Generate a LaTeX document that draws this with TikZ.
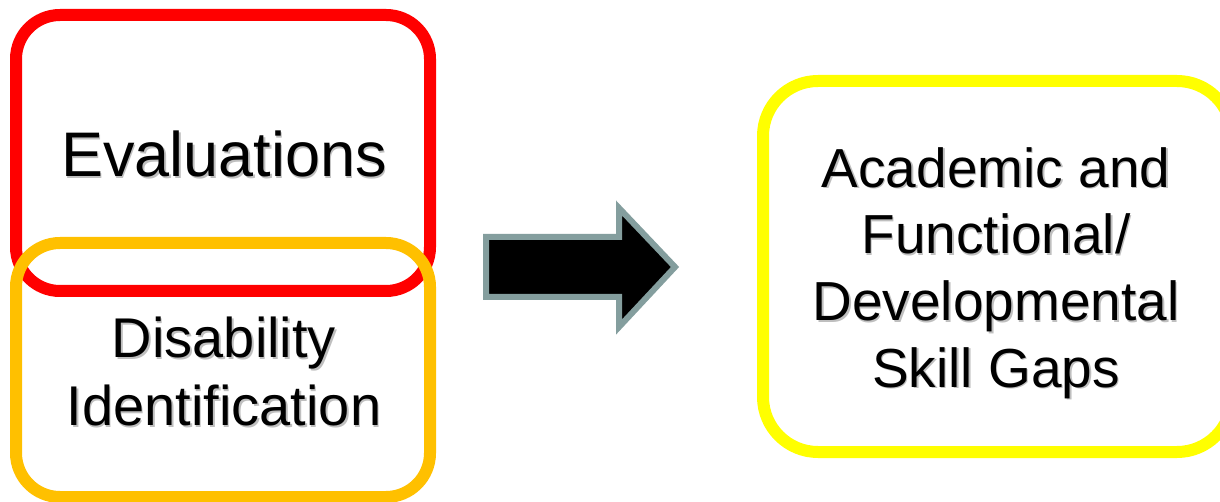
\documentclass[tikz,border=0pt]{standalone}
\usepackage{fontspec}
\setmainfont{Liberation Sans}
\definecolor{evalred}{RGB}{255,0,0}
\definecolor{disorange}{RGB}{255,192,0}
\definecolor{gapyellow}{RGB}{255,255,0}
\definecolor{arrowgrey}{RGB}{132,158,158}
\begin{document}
\begin{tikzpicture}[x=1pt,y=-1pt,
  boxline/.style={line width=12pt, rounded corners=#1},
  bigtxt/.style={inner sep=0pt, align=center, font=\fontsize{63}{70}\selectfont},
  midtxt/.style={inner sep=0pt, align=center, font=\fontsize{56}{68}\selectfont},
  gaptxt/.style={inner sep=0pt, align=center, font=\fontsize{55}{66.7}\selectfont},
  shadowtxt/.style={text=black!25}]
\useasboundingbox (0,0) rectangle (1220,502);
\clip (0,0) rectangle (1220,502);
\fill[white] (0,0) rectangle (1220,502);
% boxes
\draw[boxline=44pt, draw=evalred] (16,15) rectangle (430,291);
\draw[boxline=44pt, draw=disorange] (16,243) rectangle (430,497);
\draw[boxline=55pt, draw=gapyellow] (763,81) rectangle (1232,452);
% arrow
\draw[line width=6pt, draw=arrowgrey, fill=black, miter limit=10]
  (486,237) -- (619,237) -- (619,208) -- (675,267) -- (619,327) -- (619,297) -- (486,297) -- cycle;
% text shadows
\node[bigtxt, shadowtxt, anchor=base] at (225.5,178.5) {Evaluations};
\node[midtxt, shadowtxt] at (225.5,373) {Disability\\Identification};
\node[gaptxt, shadowtxt] at (997.5,274.5) {Academic and\\Functional/\\Developmental\\Skill Gaps};
% texts
\node[bigtxt, anchor=base] (eval) at (224,177) {Evaluations};
\node[midtxt] (dis) at (224,371.5) {Disability\\Identification};
\node[gaptxt] (gap) at (996,273) {Academic and\\Functional/\\Developmental\\Skill Gaps};
\end{tikzpicture}
\end{document}
